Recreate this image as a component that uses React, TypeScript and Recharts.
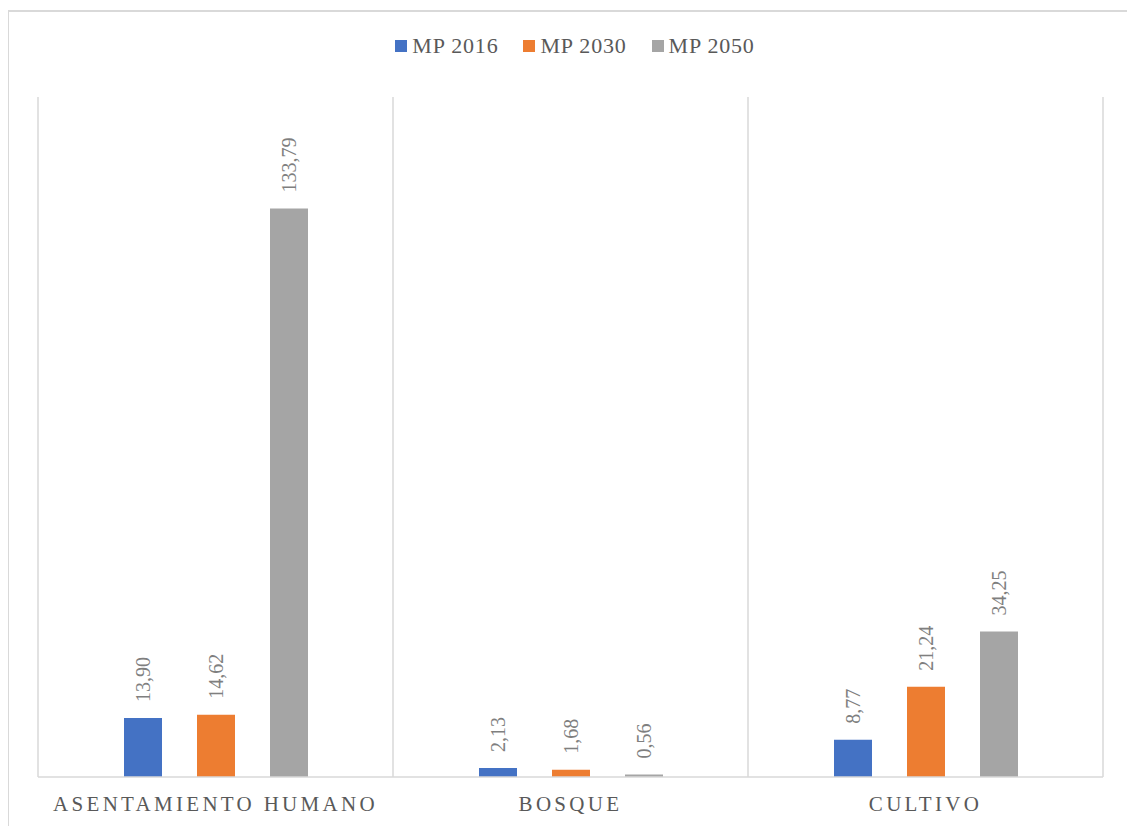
import React from 'react';
import { BarChart, Bar, XAxis, YAxis, CartesianGrid, Legend, LabelList } from 'recharts';

const categories = ['ASENTAMIENTO HUMANO', 'BOSQUE', 'CULTIVO'];
const mp2016 = [13.9, 2.13, 8.77];
const mp2030 = [14.62, 1.68, 21.24];
const mp2050 = [133.79, 0.56, 34.25];

const seriesNames = ['MP 2016', 'MP 2030', 'MP 2050'];
const seriesKeys = ['mp2016', 'mp2030', 'mp2050'];
const seriesColors = ['#4472c4', '#ed7d31', '#a5a5a5'];

const data = categories.map((name, i) => ({
  name,
  mp2016: mp2016[i],
  mp2030: mp2030[i],
  mp2050: mp2050[i],
}));

const FONT = "'Times New Roman', 'Liberation Serif', 'DejaVu Serif', serif";
const GRID = '#d9d9d9';

const formatValue = (v: number) => v.toFixed(2).replace('.', ',');

// Rotated value label sitting above each bar
const RotatedLabel = (props: any) => {
  const { x, y, width, value } = props;
  const cx = Number(x) + Number(width) / 2;
  const ty = Number(y) - 16;
  return (
    <text
      x={cx}
      y={ty}
      transform={`rotate(-90, ${cx}, ${ty})`}
      textAnchor="start"
      dominantBaseline="central"
      style={{ fontFamily: FONT, fontSize: 20 }}
      fill="#7f7f7f"
    >
      {formatValue(Number(value))}
    </text>
  );
};

const CategoryTick = (props: any) => {
  const { x, y, payload } = props;
  return (
    <text
      x={x}
      y={y}
      dy="0.71em"
      textAnchor="middle"
      style={{ fontFamily: FONT, fontSize: 21, letterSpacing: 3.3 }}
      fill="#595959"
    >
      {payload.value}
    </text>
  );
};

const LegendContent = () => (
  <div
    style={{
      display: 'flex',
      justifyContent: 'center',
      alignItems: 'center',
      fontFamily: FONT,
      fontSize: 22,
      letterSpacing: 0.8,
      color: '#595959',
      width: 1150,
    }}
  >
    {seriesNames.map((n, i) => (
      <div key={n} style={{ display: 'flex', alignItems: 'center', marginRight: i < seriesNames.length - 1 ? 25 : 0 }}>
        <span style={{ display: 'inline-block', width: 12, height: 12, background: seriesColors[i], marginRight: 5 }} />
        <span>{n}</span>
      </div>
    ))}
  </div>
);

export default function App() {
  return (
    <div style={{ position: 'absolute', left: 0, top: 0, width: 1127, height: 826, overflow: 'hidden', background: '#fff', fontFamily: FONT }}>
      <div
        style={{
          position: 'absolute',
          left: 8,
          top: 10,
          width: 1200,
          height: 900,
          borderLeft: `1.5px solid ${GRID}`,
          borderTop: `2px solid ${GRID}`,
        }}
      />
      <div style={{ position: 'absolute', left: 0, top: 0 }}>
        <BarChart
          width={1127}
          height={826}
          data={data}
          margin={{ top: 97, right: 24, bottom: 4, left: 38 }}
          barSize={38}
          barGap={35}
        >
          <CartesianGrid
            horizontal={false}
            stroke={GRID}
            strokeWidth={1.5}
            verticalCoordinatesGenerator={({ offset }: any) => {
              const step = offset.width / categories.length;
              return [...categories.map((_, i) => offset.left + i * step), offset.left + offset.width];
            }}
          />
          <XAxis
            dataKey="name"
            height={45}
            axisLine={{ stroke: GRID, strokeWidth: 1.5 }}
            tickLine={false}
            tickMargin={13}
            tick={<CategoryTick />}
            interval={0}
          />
          <YAxis hide domain={[0, 160]} />
          <Legend
            layout="horizontal"
            verticalAlign="middle"
            align="center"
            wrapperStyle={{ top: 33, left: 0, width: 1150 }}
            content={<LegendContent />}
          />
          {seriesKeys.map((k, i) => (
            <Bar key={k} dataKey={k} name={seriesNames[i]} fill={seriesColors[i]} isAnimationActive={false}>
              <LabelList dataKey={k} content={<RotatedLabel />} />
            </Bar>
          ))}
        </BarChart>
      </div>
    </div>
  );
}
